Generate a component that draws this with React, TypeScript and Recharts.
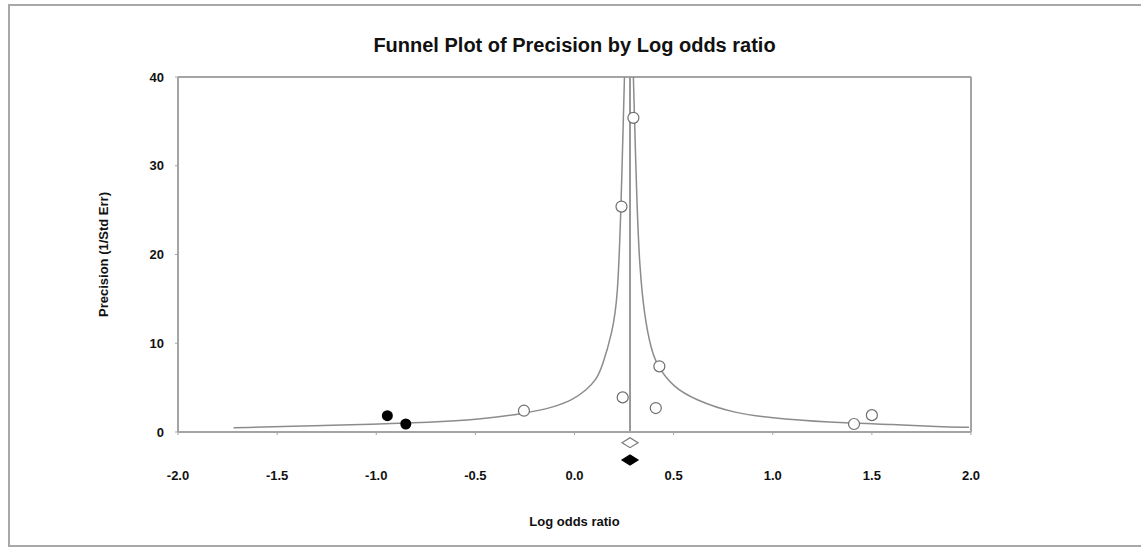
import React from 'react'
import { ScatterChart, Scatter, XAxis, YAxis, ReferenceLine, ReferenceDot } from 'recharts'

const xTicks = [-2, -1.5, -1, -0.5, 0, 0.5, 1, 1.5, 2]
const yTicks = [0, 10, 20, 30, 40]

// pooled log odds ratio (vertical line)
const pooledEstimate = 0.28

// funnel edges
const funnelLeft = [
  { x: -1.72, y: 0.48 },
  { x: -1.285, y: 0.71 },
  { x: -1.03, y: 0.87 },
  { x: -0.73, y: 1.09 },
  { x: -0.48, y: 1.43 },
  { x: -0.26, y: 2.05 },
  { x: -0.11, y: 2.75 },
  { x: -0.01, y: 3.6 },
  { x: 0.06, y: 4.73 },
  { x: 0.109, y: 5.86 },
  { x: 0.14, y: 7.36 },
  { x: 0.19, y: 11.2 },
  { x: 0.218, y: 14.9 },
  { x: 0.235, y: 25.4 },
  { x: 0.252, y: 40 },
]

const funnelRight = [
  { x: 0.297, y: 40 },
  { x: 0.314, y: 26.1 },
  { x: 0.328, y: 18.6 },
  { x: 0.353, y: 13 },
  { x: 0.387, y: 9.24 },
  { x: 0.42, y: 7.36 },
  { x: 0.496, y: 5.1 },
  { x: 0.61, y: 3.6 },
  { x: 0.8, y: 2.1 },
  { x: 1.05, y: 1.43 },
  { x: 1.385, y: 0.98 },
  { x: 1.6, y: 0.87 },
  { x: 1.84, y: 0.6 },
  { x: 1.99, y: 0.53 },
]

// observed studies (open circles)
const observedStudies = [
  { x: -0.255, y: 2.4 },
  { x: 0.243, y: 3.9 },
  { x: 0.41, y: 2.7 },
  { x: 0.428, y: 7.4 },
  { x: 0.237, y: 25.4 },
  { x: 0.297, y: 35.4 },
  { x: 1.41, y: 0.9 },
  { x: 1.5, y: 1.9 },
]

// imputed studies (filled circles)
const imputedStudies = [
  { x: -0.944, y: 1.84 },
  { x: -0.851, y: 0.9 },
]

// summary diamonds under the axis
const summaryDiamonds = [
  { x: 0.28, y: -1.2, filled: false },
  { x: 0.28, y: -3.15, filled: true },
]

const FONT = '"Liberation Sans", Arial, sans-serif'
const AXIS = '#a4a4a4'

const OpenDot = (p: any) => (
  <circle cx={p.cx} cy={p.cy} r={5.5} fill="#fff" stroke="#6e6e6e" strokeWidth={1.2} />
)
const FilledDot = (p: any) => <circle cx={p.cx} cy={p.cy} r={5.5} fill="#000" />
const NoDot = () => <g />

const diamond = (filled: boolean) => (p: any) => (
  <polygon
    points={`${p.cx - 8},${p.cy} ${p.cx},${p.cy - 5} ${p.cx + 8},${p.cy} ${p.cx},${p.cy + 5}`}
    fill={filled ? '#000' : '#fff'}
    stroke={filled ? '#000' : '#777'}
    strokeWidth={1.2}
  />
)

const YLabel = ({ viewBox }: any) => {
  const cx = viewBox.x
  const cy = viewBox.y + viewBox.height / 2
  return (
    <text x={cx} y={cy} transform={`rotate(-90 ${cx} ${cy})`} textAnchor="middle"
      dominantBaseline="central" fontFamily={FONT} fontWeight="bold" fontSize={13} fill="#111">
      Precision (1/Std Err)
    </text>
  )
}

const XLabel = ({ viewBox }: any) => (
  <text x={viewBox.x + viewBox.width / 2} y={viewBox.y + 89} textAnchor="middle"
    dominantBaseline="central" fontFamily={FONT} fontWeight="bold" fontSize={13} fill="#111">
    Log odds ratio
  </text>
)

export default function App() {
  const tickStyle = { fontFamily: FONT, fontWeight: 'bold', fontSize: 13, fill: '#111' }
  return (
    <div style={{ position: 'absolute', left: 0, top: 0, width: 1141, height: 548, background: '#fff' }}>
      <div style={{
        position: 'absolute', left: 8, top: 4, width: 1133, height: 543,
        boxSizing: 'border-box', border: '2px solid #a8a8a8', borderRight: 'none'
      }} />
      <div style={{
        position: 'absolute', left: 178, top: 34, width: 793, textAlign: 'center',
        fontFamily: FONT, fontWeight: 'bold', fontSize: 20, lineHeight: '22px', color: '#111'
      }}>
        Funnel Plot of Precision by Log odds ratio
      </div>
      <div style={{ position: 'absolute', left: 0, top: 0 }}>
        <ScatterChart width={1141} height={548} margin={{ top: 77, right: 170, left: 103, bottom: 16 }}>
          <XAxis type="number" dataKey="x" domain={[-2, 2]} ticks={xTicks} allowDataOverflow
            tickFormatter={(v: number) => v.toFixed(1)} height={100}
            axisLine={{ stroke: AXIS, strokeWidth: 2 }} tickLine={{ stroke: AXIS }}
            tickSize={3} tickMargin={36} tick={tickStyle} label={<XLabel />} />
          <YAxis type="number" dataKey="y" domain={[0, 40]} ticks={yTicks} allowDataOverflow
            width={75} axisLine={{ stroke: AXIS, strokeWidth: 2 }} tickLine={{ stroke: AXIS }}
            tickSize={3} tickMargin={11} tick={tickStyle} label={<YLabel />} />
          <ReferenceLine y={40} stroke={AXIS} strokeWidth={2} />
          <ReferenceLine x={2} stroke={AXIS} strokeWidth={2} />
          <ReferenceLine x={pooledEstimate} stroke="#999" strokeWidth={2} />
          <Scatter data={funnelLeft} line={{ stroke: '#8c8c8c', strokeWidth: 1.5 }}
            lineJointType="basis" shape={NoDot} isAnimationActive={false} />
          <Scatter data={funnelRight} line={{ stroke: '#8c8c8c', strokeWidth: 1.5 }}
            lineJointType="basis" shape={NoDot} isAnimationActive={false} />
          <Scatter data={observedStudies} shape={OpenDot} isAnimationActive={false} />
          <Scatter data={imputedStudies} shape={FilledDot} isAnimationActive={false} />
          {summaryDiamonds.map((d, i) => (
            <ReferenceDot key={i} x={d.x} y={d.y} ifOverflow="visible" shape={diamond(d.filled)} />
          ))}
        </ScatterChart>
      </div>
    </div>
  )
}
